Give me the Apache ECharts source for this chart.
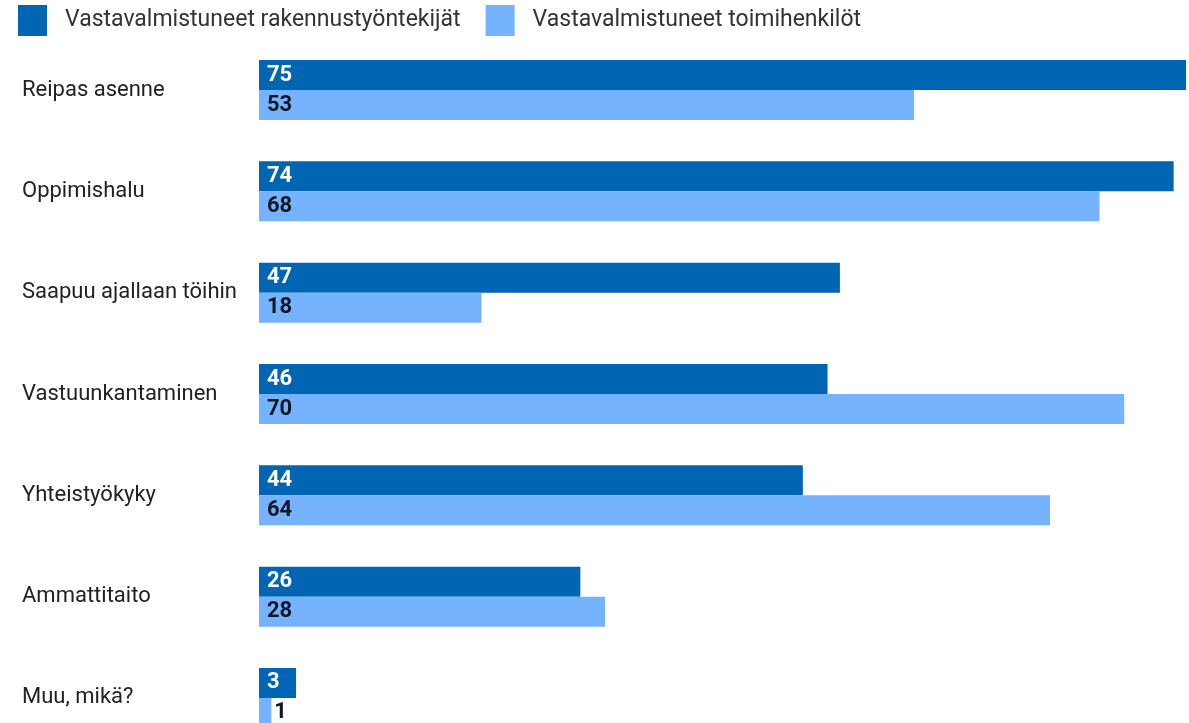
<!DOCTYPE html>
<html>
<head>
<meta charset="utf-8">
<script src="https://cdn.jsdelivr.net/npm/echarts@6/dist/echarts.min.js"></script>
<style>
html, body { margin: 0; padding: 0; background: #fff; }
#main { width: 1189px; height: 723px; }
</style>
</head>
<body>
<div id="main"></div>
<script>
var categories = ['Reipas asenne', 'Oppimishalu', 'Saapuu ajallaan töihin', 'Vastuunkantaminen', 'Yhteistyökyky', 'Ammattitaito', 'Muu, mikä?'];
var rakennus = [75, 74, 47, 46, 44, 26, 3];
var toimihenkilot = [53, 68, 18, 70, 64, 28, 1];
var seriesNames = ['Vastavalmistuneet rakennustyöntekijät', 'Vastavalmistuneet toimihenkilöt'];

var dom = document.getElementById('main');
var myChart = echarts.init(dom);
var font = 'Roboto';

// pieni palkki: arvo palkin oikealle puolelle
function lightData(arr) {
    return arr.map(function (v) {
        if (v < 3) {
            return { value: v, label: { position: 'right', distance: 3 } };
        }
        return v;
    });
}

var option = {
    animation: false,
    textStyle: { fontFamily: font },
    legend: {
        left: 13,
        top: 0,
        itemWidth: 29,
        itemHeight: 31,
        itemGap: 25,
        icon: 'rect',
        textStyle: { fontSize: 23, color: '#333', fontFamily: font, padding: [0, 0, 0, 13] },
        data: seriesNames
    },
    grid: {
        left: 259,
        right: 3,
        top: 39.4,
        height: 709.2,
        outerBoundsMode: 'none'
    },
    xAxis: {
        type: 'value',
        min: 0,
        max: 75,
        show: false
    },
    yAxis: {
        type: 'category',
        inverse: true,
        data: categories,
        axisLine: { show: false },
        axisTick: { show: false },
        axisLabel: {
            align: 'left',
            margin: 237,
            fontSize: 22,
            color: '#222',
            fontFamily: font
        }
    },
    series: [{
        name: seriesNames[0],
        type: 'bar',
        barWidth: 30,
        barGap: '0%',
        itemStyle: { color: '#0065b2' },
        label: {
            show: true,
            position: 'insideLeft',
            distance: 8,
            color: '#fff',
            fontWeight: 'bold',
            fontSize: 22,
            fontFamily: font
        },
        data: rakennus
    }, {
        name: seriesNames[1],
        type: 'bar',
        barWidth: 30,
        barGap: '0%',
        itemStyle: { color: '#75b3ff' },
        label: {
            show: true,
            position: 'insideLeft',
            distance: 8,
            color: '#111822',
            fontWeight: 'bold',
            fontSize: 22,
            fontFamily: font
        },
        data: lightData(toimihenkilot)
    }]
};
myChart.setOption(option, true);
</script>
</body>
</html>
